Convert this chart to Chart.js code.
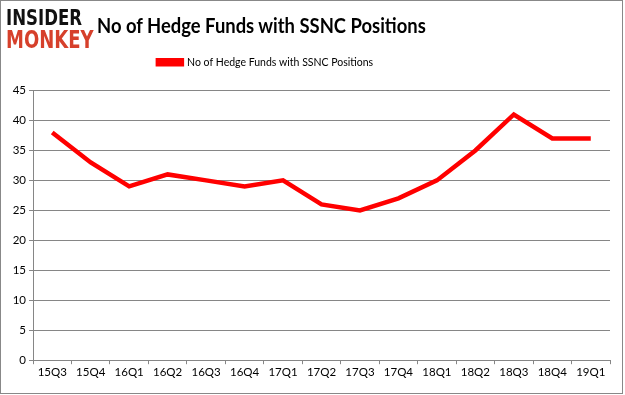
<!DOCTYPE html>
<html><head><meta charset="utf-8">
<script src="https://cdn.jsdelivr.net/npm/chart.js@4/dist/chart.umd.min.js"></script>
<style>
html,body{margin:0;padding:0;background:#fff;}
#wrap{position:relative;width:625px;height:395px;overflow:hidden;}
#frame{position:absolute;left:0;top:0;width:623px;height:394px;border:1px solid #888;box-sizing:border-box;pointer-events:none;}
#logo{position:absolute;left:6px;top:7px;font-family:"DejaVu Sans",sans-serif;font-weight:bold;}
#logo .a{position:absolute;left:0;top:0;color:#111;font-size:21px;line-height:22px;display:block;white-space:nowrap;transform:scaleX(0.79);transform-origin:left;}
#logo .b{position:absolute;left:0;top:21px;color:#d6402b;font-size:24px;line-height:25px;display:block;white-space:nowrap;transform:scaleX(0.75);transform-origin:left;}
#title{position:absolute;left:97px;top:12px;font-family:Lato,"Liberation Sans",sans-serif;font-size:21px;font-weight:bold;color:#000;white-space:nowrap;transform:scaleX(0.877);transform-origin:left;}
canvas{position:absolute;left:0;top:0;}
</style></head>
<body><div id="wrap">
<canvas id="c" width="625" height="395"></canvas>
<div id="logo"><span class="a">INSIDER</span><span class="b">MONKEY</span></div>
<div id="title">No of Hedge Funds with SSNC Positions</div>
<div id="frame"></div>
</div>
<script>
const categories = ["15Q3","15Q4","16Q1","16Q2","16Q3","16Q4","17Q1","17Q2","17Q3","17Q4","18Q1","18Q2","18Q3","18Q4","19Q1"];
const seriesName = "No of Hedge Funds with SSNC Positions";
const hedgeFunds = [38,33,29,31,30,29,30,26,25,27,30,35,41,37,37];
const yMin = 0, yMax = 45, yStep = 5;

const legendMargin = {
  id: 'legendMargin',
  beforeInit(chart) {
    const lg = chart.legend;
    if (!lg) return;
    const origFit = lg.fit;
    lg.fit = function () { origFit.call(this); this.height += 13; };
    const origDraw = lg.draw;
    lg.draw = function () {
      const l = this.left, r = this.right;
      this.left = l - 42; this.right = r - 42;
      origDraw.call(this);
      this.left = l; this.right = r;
    };
  }
};

const tickFont = { family: 'Lato,"Liberation Sans",sans-serif', size: 11.5 };

new Chart(document.getElementById('c'), {
  type: 'line',
  data: { labels: categories, datasets: [{
    label: seriesName, data: hedgeFunds,
    borderColor: '#ff0000', backgroundColor: '#ff0000',
    borderWidth: 4.5, pointRadius: 0, tension: 0, fill: false
  }]},
  options: {
    responsive: false, animation: false,
    layout: { padding: { left: 5, right: 15, top: 51, bottom: 15 } },
    plugins: {
      legend: { display: true, position: 'top',
        labels: { boxWidth: 24, boxHeight: 4, color: '#000',
          font: { family: 'Lato,"Liberation Sans",sans-serif', size: 10.5 }, padding: 6 } },
      tooltip: { enabled: false }
    },
    scales: {
      x: { offset: true,
        grid: { display: true, offset: true, drawOnChartArea: false, drawTicks: true, tickLength: 4, color: '#868686' },
        border: { color: '#868686' },
        ticks: { color: '#000', font: tickFont, maxRotation: 0, padding: 1 } },
      y: { min: yMin, max: yMax,
        afterFit: (s) => { s.width = 28; },
        grid: { color: '#868686', tickLength: 4 },
        border: { color: '#868686' },
        ticks: { stepSize: yStep, color: '#000', font: tickFont, padding: 3 } }
    }
  },
  plugins: [legendMargin]
});
</script>
</body></html>
